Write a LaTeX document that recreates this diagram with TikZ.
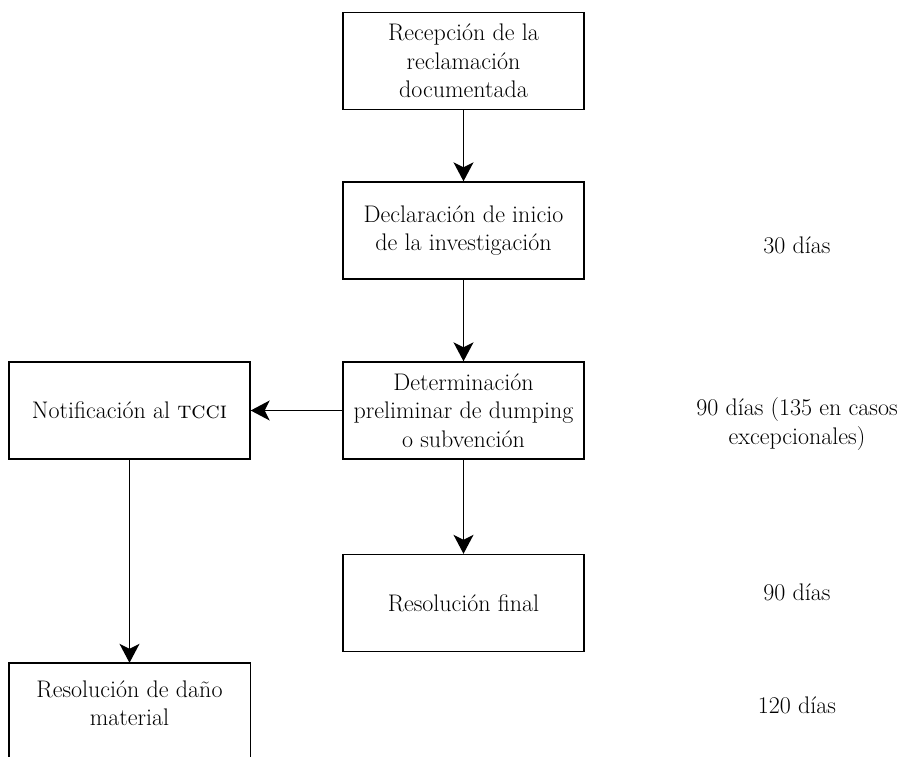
\documentclass[tikz,border=0pt]{standalone}
\usetikzlibrary{arrows.meta}
\begin{document}
\begin{tikzpicture}[x=1pt,y=-1pt,
  every node/.style={font=\fontsize{24}{28.5}\selectfont, align=center, inner sep=0pt},
  stagebox/.style={draw, line width=1.4pt, minimum width=241pt, minimum height=97pt},
  tlabel/.style={},
  conn/.style={line width=1.4pt, -{Stealth[length=19pt,width=20pt,inset=5pt]}}]
\useasboundingbox (0,0) rectangle (903,757);
\node[stagebox] (rec) at (463.5,61) {Recepción de la\\reclamación\\documentada};
\node[stagebox] (dec) at (463.5,230.5) {Declaración de inicio\\de la investigación};
\node[stagebox] (det) at (463.5,410.5) {Determinación\\preliminar de dumping\\o subvención};
\node[stagebox] (fin) at (463.5,603) {Resolución final};
\node[stagebox] (not) at (129.5,410.5) {Notificación al \textsc{tcci}};
\node[minimum width=241pt, minimum height=80pt] (dano) at (129.5,703) {Resolución de daño\\material};
\draw[line width=1.4pt] ([yshift=-30pt]dano.south west) -- (dano.north west) -- (dano.north east) -- ([yshift=-30pt]dano.south east);
\node[tlabel] (t1) at (797,245) {30 días};
\node[tlabel] (t2) at (797,424) {90 días (135 en casos\\excepcionales)};
\node[tlabel] (t3) at (797,592) {90 días};
\node[tlabel] (t4) at (797,705) {120 días};
\draw[conn] (rec) -- (dec);
\draw[conn] (dec) -- (det);
\draw[conn] (det) -- (fin);
\draw[conn] (det) -- (not);
\draw[conn] (not) -- (dano);
\end{tikzpicture}
\end{document}
